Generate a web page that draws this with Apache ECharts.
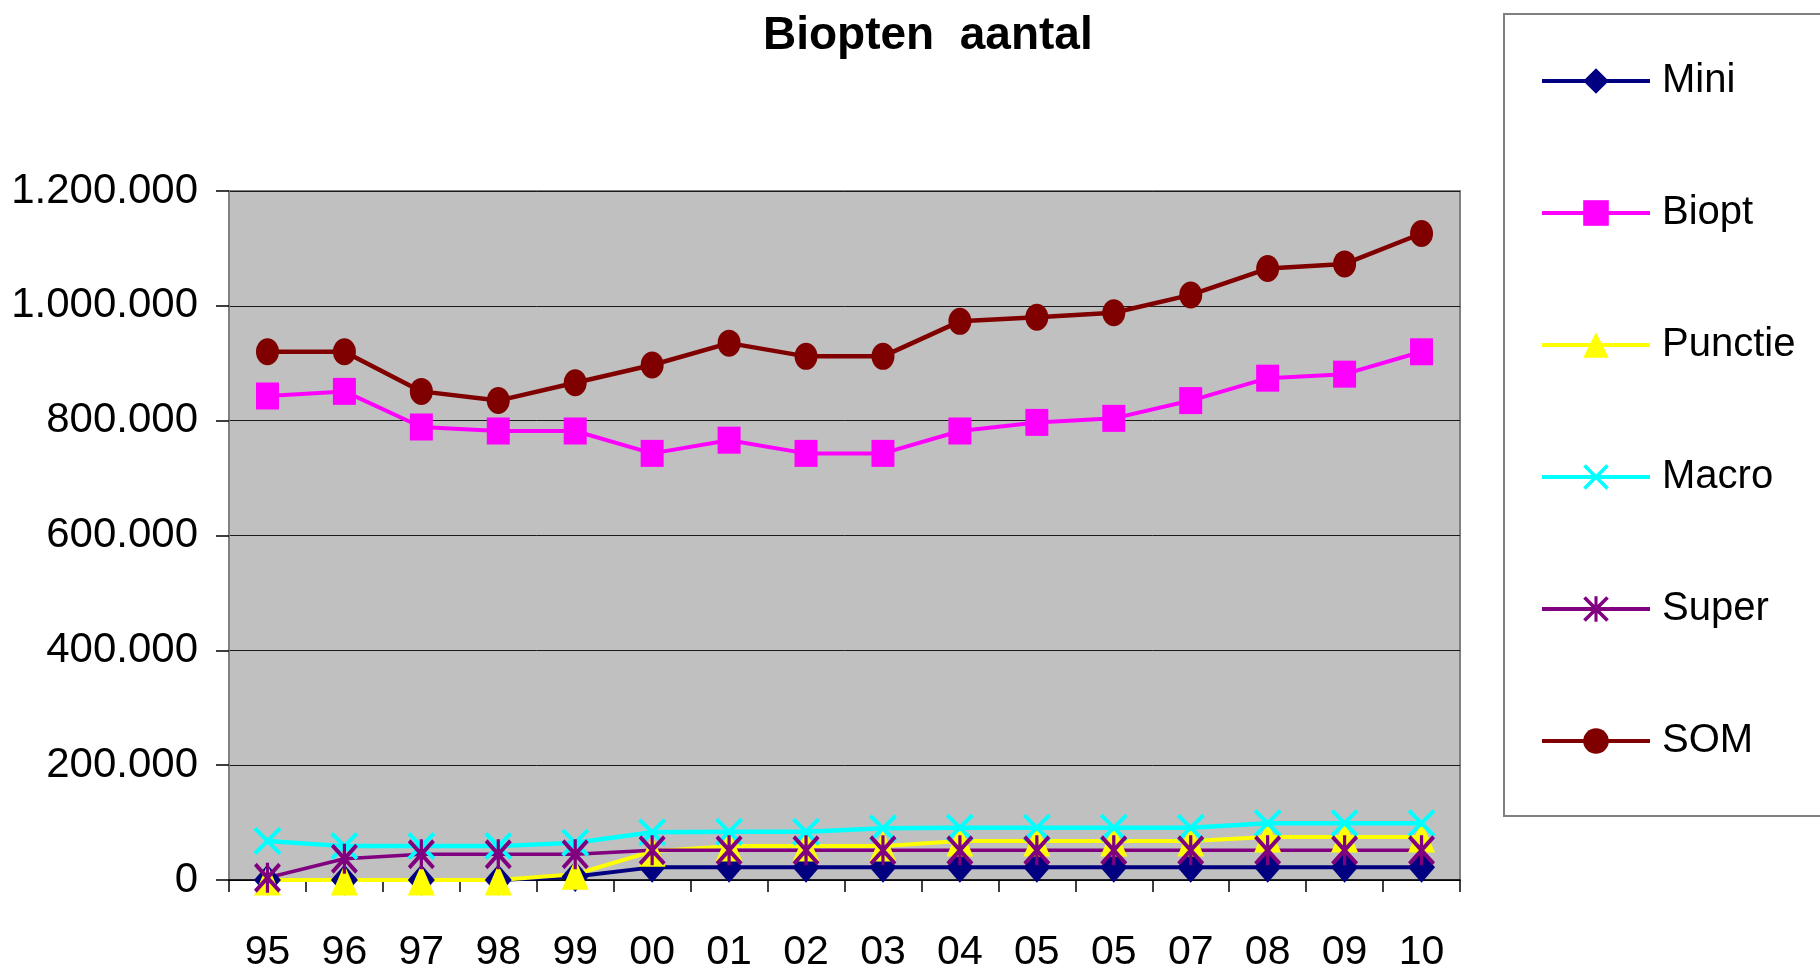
<!DOCTYPE html>
<html>
<head>
<meta charset="utf-8">
<script src="https://cdn.jsdelivr.net/npm/echarts@6/dist/echarts.min.js"></script>
<style>
html,body{margin:0;padding:0;background:#fff;}
#chart{width:1820px;height:973px;}
</style>
</head>
<body>
<div id="chart"></div>
<script>
const categories = ['95','96','97','98','99','00','01','02','03','04','05','05','07','08','09','10'];
const yTicks = [0, 200000, 400000, 600000, 800000, 1000000, 1200000];
const mini    = [0, 0, 0, 0, 6000, 22000, 22000, 22000, 22000, 22000, 22000, 22000, 22000, 22000, 22000, 22000];
const biopt   = [843000, 851000, 789000, 782000, 782000, 743000, 766000, 743000, 743000, 782000, 797000, 804000, 835000, 874000, 881000, 920000];
const punctie = [0, 0, 0, 0, 10000, 50000, 59000, 59000, 59000, 68000, 68000, 68000, 68000, 75000, 75000, 75000];
const macro   = [68000, 59000, 59000, 59000, 65000, 83000, 84000, 84000, 90000, 91000, 91000, 91000, 91000, 99000, 99000, 99000];
const superS  = [4000, 37000, 45000, 45000, 45000, 52000, 52000, 52000, 52000, 52000, 52000, 52000, 52000, 52000, 52000, 52000];
const som     = [920000, 920000, 851000, 835000, 866000, 897000, 935000, 912000, 912000, 973000, 980000, 988000, 1019000, 1065000, 1073000, 1126000];

const FONT = "'Liberation Sans', Arial, sans-serif";
const xPath = 'path://M0,1L1,0L10,9L9,10Z M9,0L10,1L1,10L0,9Z';
const starPath = 'path://M0,1L1,0L10,9L9,10Z M9,0L10,1L1,10L0,9Z M4.4,0L5.6,0L5.6,10L4.4,10Z';

function fmt(v){
  return String(v).replace(/\B(?=(\d{3})+(?!\d))/g, '.');
}

function mk(name, data, color, symbol, size, lw){
  return {
    name: name, type: 'line', data: data,
    symbol: symbol, symbolSize: size,
    lineStyle: {color: color, width: lw},
    itemStyle: {color: color},
    emphasis: {disabled: true},
    animation: false
  };
}

const chart = echarts.init(document.getElementById('chart'));
chart.setOption({
  animation: false,
  backgroundColor: '#ffffff',
  textStyle: {fontFamily: FONT},
  graphic: [
    {type: 'text', left: 928 - 165, top: 13, style: {text: 'Biopten  aantal', font: 'bold 46px ' + FONT, fill: '#000'}},
    {type: 'rect', shape: {x: 1504, y: 14, width: 330, height: 802}, style: {fill: 'none', stroke: '#808080', lineWidth: 2}, z: 10}
  ],
  legend: {
    orient: 'vertical',
    left: 1540, top: 61, padding: 0,
    itemWidth: 108, itemHeight: 32, itemGap: 92,
    lineStyle: {width: 4},
    textStyle: {fontFamily: FONT, fontSize: 40, color: '#000', padding: [0, 0, 0, 7]},
    data: ['Mini', 'Biopt', 'Punctie', 'Macro', 'Super', 'SOM']
  },
  grid: {
    left: 229, right: 360, top: 191, bottom: 89,
    show: true, backgroundColor: '#C0C0C0', borderColor: '#808080', borderWidth: 2
  },
  xAxis: {
    type: 'category', data: categories, boundaryGap: true,
    axisLine: {show: true, lineStyle: {color: '#000', width: 1.5}},
    axisTick: {show: true, interval: 0, length: 12, lineStyle: {color: '#000', width: 1.5}},
    axisLabel: {interval: 0, fontFamily: FONT, fontSize: 41, color: '#000', margin: 52}
  },
  yAxis: {
    type: 'value', min: yTicks[0], max: yTicks[yTicks.length - 1], interval: yTicks[1] - yTicks[0],
    axisLine: {show: true, lineStyle: {color: '#808080', width: 2}},
    axisTick: {show: true, length: 13, lineStyle: {color: '#000', width: 1.5}},
    splitLine: {show: true, lineStyle: {color: '#1a1a1a', width: 1}},
    axisLabel: {fontFamily: FONT, fontSize: 42, color: '#000', margin: 31, formatter: fmt}
  },
  series: [
    mk('Mini', mini, '#000080', 'diamond', [27, 31], 4),
    mk('Biopt', biopt, '#FF00FF', 'rect', [23, 27], 4),
    mk('Punctie', punctie, '#FFFF00', 'triangle', [27, 31], 4),
    mk('Macro', macro, '#00FFFF', xPath, [28, 28], 4.5),
    mk('Super', superS, '#800080', starPath, [27, 30], 3.5),
    mk('SOM', som, '#800000', 'circle', [23, 27], 4.5)
  ]
});
</script>
</body>
</html>
